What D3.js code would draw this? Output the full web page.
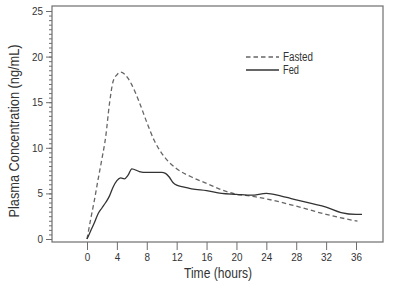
<!DOCTYPE html>
<html>
<head>
<meta charset="utf-8">
<script src="https://cdn.jsdelivr.net/npm/d3@7"></script>
<style>
  html, body { margin: 0; padding: 0; background: #fff; }
  svg { display: block; }
  text { font-family: "Liberation Sans Narrow", "Arial Narrow", "Liberation Sans", Arial, sans-serif; fill: #333; }
</style>
</head>
<body>
<svg id="chart" width="400" height="284"></svg>
<script>
// ---- data ----
const fastedTime = [0, 0.5, 1, 1.5, 2, 2.5, 3, 3.5, 4, 4.5, 5, 5.5, 6, 7, 8, 9, 10, 11, 12, 14, 16, 18, 20, 22, 24, 28, 32, 36.2];
const fastedConc = [0, 2.2, 4.3, 6.6, 8.8, 11.2, 14.8, 17.3, 18.0, 18.3, 18.1, 17.6, 16.9, 15.0, 12.8, 10.8, 9.4, 8.4, 7.7, 6.8, 6.1, 5.4, 4.9, 4.7, 4.4, 3.6, 2.7, 1.95];

const fedTime = [0, 0.5, 1, 1.5, 2, 2.5, 3, 3.5, 4, 4.5, 5, 5.5, 6, 7, 8, 9, 10, 10.5, 11, 11.5, 12, 13, 14, 16, 18, 20, 22, 24, 26, 28, 30, 32, 34, 36, 36.8];
const fedConc = [0, 0.9, 1.8, 2.8, 3.4, 4.0, 4.7, 5.7, 6.4, 6.7, 6.6, 7.0, 7.7, 7.4, 7.3, 7.3, 7.3, 7.2, 6.8, 6.2, 5.9, 5.7, 5.5, 5.3, 5.0, 4.9, 4.8, 5.0, 4.7, 4.3, 3.9, 3.5, 2.9, 2.7, 2.7];

const xTicks = [0, 4, 8, 12, 16, 20, 24, 28, 32, 36];
const yTicks = [0, 5, 10, 15, 20, 25];
const seriesNames = ["Fasted", "Fed"];
const xTitle = "Time (hours)";
const yTitle = "Plasma Concentration (ng/mL)";

// ---- layout ----
const frame = { left: 52, right: 383, top: 6, bottom: 242 };
const x = d3.scaleLinear().domain([0, 36]).range([87, 356]);
const y = d3.scaleLinear().domain([0, 25]).range([239, 11]);

const svg = d3.select("#chart");
const axisColor = "#6e6e6e";

// frame
svg.append("rect")
  .attr("x", frame.left).attr("y", frame.top)
  .attr("width", frame.right - frame.left).attr("height", frame.bottom - frame.top)
  .attr("fill", "none").attr("stroke", axisColor).attr("stroke-width", 1.2);

// y axis (major + minor)
const yMinor = d3.range(0, 25.01, 0.5);
const yAxisMinor = d3.axisLeft(y).tickValues(yMinor).tickSize(3).tickFormat("");
const gyMinor = svg.append("g").attr("transform", `translate(${frame.left},0)`).call(yAxisMinor);
gyMinor.select(".domain").remove();
gyMinor.selectAll("line").attr("stroke", axisColor);

const yAxis = d3.axisLeft(y).tickValues(yTicks).tickSize(6).tickPadding(3);
const gy = svg.append("g").attr("transform", `translate(${frame.left},0)`).call(yAxis);
gy.select(".domain").remove();
gy.selectAll("line").attr("stroke", axisColor);
gy.selectAll("text").style("font-size", "11px").attr("fill", "#333")
  .attr("textLength", d => d >= 10 ? 11 : 5.5).attr("lengthAdjust", "spacingAndGlyphs");

// x axis
const xAxis = d3.axisBottom(x).tickValues(xTicks).tickSize(8).tickPadding(3);
const gx = svg.append("g").attr("transform", `translate(0,${frame.bottom})`).call(xAxis);
gx.select(".domain").remove();
gx.selectAll("line").attr("stroke", axisColor);
gx.selectAll("text").style("font-size", "11px").attr("fill", "#333")
  .attr("textLength", d => d >= 10 ? 11 : 5.5).attr("lengthAdjust", "spacingAndGlyphs");

// titles
svg.append("text").attr("x", 218).attr("y", 278).attr("text-anchor", "middle")
  .style("font-size", "15px").attr("textLength", 68).attr("lengthAdjust", "spacingAndGlyphs").text(xTitle);
svg.append("text").attr("transform", "translate(19,131) rotate(-90)").attr("text-anchor", "middle")
  .style("font-size", "14px").attr("textLength", 173).attr("lengthAdjust", "spacingAndGlyphs").text(yTitle);

// lines
const line = d3.line().x(d => x(d[0])).y(d => y(d[1])).curve(d3.curveMonotoneX);
const fasted = fastedTime.map((t, i) => [t, fastedConc[i]]);
const fed = fedTime.map((t, i) => [t, fedConc[i]]);

svg.append("path").datum(fasted).attr("d", line)
  .attr("fill", "none").attr("stroke", "#666").attr("stroke-width", 1.3).attr("stroke-dasharray", "4.5,3");
svg.append("path").datum(fed).attr("d", line)
  .attr("fill", "none").attr("stroke", "#333").attr("stroke-width", 1.3);

// legend
const legend = svg.append("g");
const legY = [57, 70];
const legW = [30, 16];
seriesNames.forEach((name, i) => {
  legend.append("line").attr("x1", 246).attr("x2", 279).attr("y1", legY[i]).attr("y2", legY[i])
    .attr("stroke", i === 0 ? "#666" : "#333").attr("stroke-width", 1.3)
    .attr("stroke-dasharray", i === 0 ? "4.5,3" : null);
  legend.append("text").attr("x", 283).attr("y", legY[i]).attr("dy", "0.35em")
    .style("font-size", "12px").attr("textLength", legW[i]).attr("lengthAdjust", "spacingAndGlyphs").text(name);
});
</script>
</body>
</html>
